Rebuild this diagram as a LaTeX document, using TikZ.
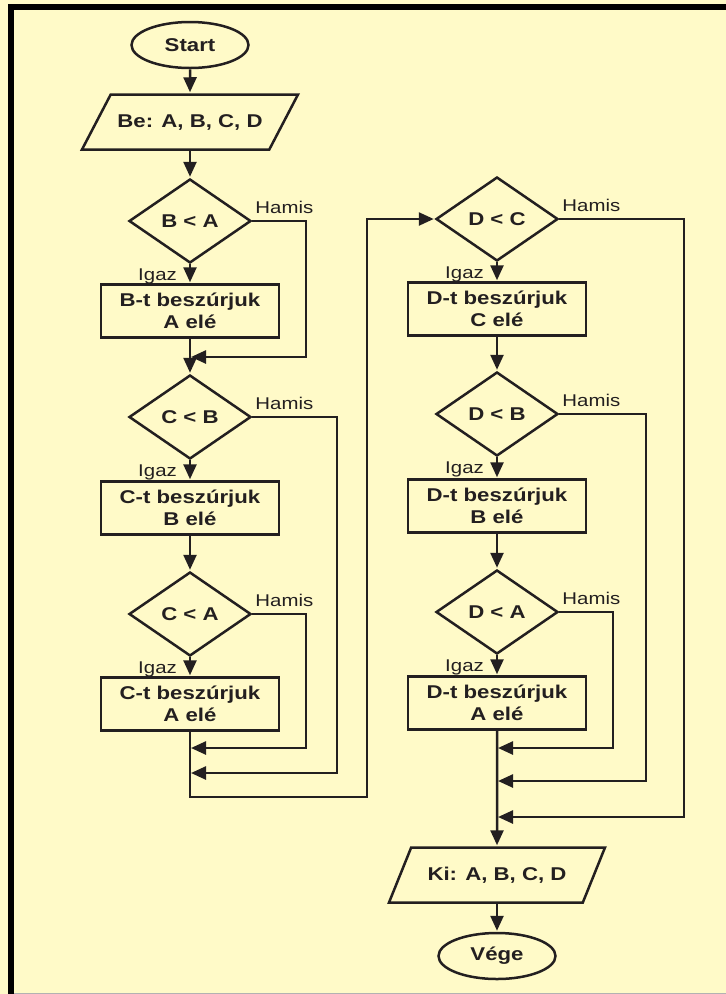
\documentclass[tikz,border=0pt]{standalone}
\usepackage{fontspec}
\newfontfamily\flowfont[FakeStretch=1.2]{Liberation Sans}
\usetikzlibrary{shapes.geometric,arrows.meta}
\definecolor{paper}{RGB}{255,250,200}
\definecolor{ink}{RGB}{35,31,32}

\begin{document}
\begin{tikzpicture}
    [x=1pt,y=-1pt,
     every node/.style={font=\flowfont\fontsize{18.5}{22}\selectfont\bfseries,text=ink},
     term/.style={shape=ellipse,draw=ink,line width=2.5pt,minimum width=117pt,minimum height=46pt,inner sep=0pt},
     io/.style={shape=trapezium,trapezium left angle=#1,trapezium right angle=180-#1,trapezium stretches body=true,
       draw=ink,line width=2.5pt,minimum width=216pt,minimum height=55pt,inner xsep=0pt,inner ysep=18pt},
     test/.style={shape=diamond,draw=ink,line width=2.5pt,minimum width=122pt,minimum height=84pt,inner sep=0pt},
     proc/.style={shape=rectangle,draw=ink,line width=2.5pt,minimum width=178pt,minimum height=53pt,align=center,inner sep=0pt},
     tag/.style={font=\flowfont\fontsize{17}{20}\selectfont,inner sep=1pt},
     pre/.style={<-,>={Triangle[length=15pt,width=13pt]},shorten <=1pt,line width=2.5pt,draw=ink},
     post/.style={pre,->,shorten <=0pt,shorten >=1pt}]
    \useasboundingbox (0,0) rectangle (726,994);
    \fill [paper] (0,0) rectangle (726,994);
    \fill [black] (8,4) rectangle (726,10);
    \fill [black] (8,4) rectangle (14,994);
    \draw [black!30,line width=1pt] (14,993) -- (726,993);
    % left column
    \node [term] (start) at (190,45) {Start};
    \node [io=61] (be) at (190,122) {Be: A, B, C, D} edge [pre] (start);
    \node [test] (t1) at (190,221) {B < A} edge [pre] (be);
    \node [proc] (p1) at (190,311) {B-t beszúrjuk\\A elé} edge [pre] (t1);
    \node [test] (t2) at (190,417) {C < B} edge [pre] (p1);
    \node [proc] (p2) at (190,508) {C-t beszúrjuk\\B elé} edge [pre] (t2);
    \node [test] (t3) at (190,614) {C < A} edge [pre] (p2);
    \node [proc] (p3) at (190,704) {C-t beszúrjuk\\A elé} edge [pre] (t3);
    % right column
    \node [test] (t4) at (497,219) {D < C};
    \node [proc] (p4) at (497,309) {D-t beszúrjuk\\C elé} edge [pre] (t4);
    \node [test] (t5) at (497,414) {D < B} edge [pre] (p4);
    \node [proc] (p5) at (497,506) {D-t beszúrjuk\\B elé} edge [pre] (t5);
    \node [test] (t6) at (497,612) {D < A} edge [pre] (p5);
    \node [proc] (p6) at (497,703) {D-t beszúrjuk\\A elé} edge [pre] (t6);
    \node [io=67] (ki) at (497,875) {Ki: A, B, C, D} edge [pre] (p6);
    \node [term] (vege) at (497,956) {Vége} edge [pre] (ki);
    % labels
    \foreach \t in {t1,t2,t3,t4,t5,t6} {
      \node [tag,anchor=base west] (h-\t) at ([shift={(2,-8)}]\t.east) {Hamis};
      \node [tag,anchor=base east] (i-\t) at ([shift={(-12,16)}]\t.south) {Igaz};
    }
    % joins
    \coordinate (j1) at (190,357); \coordinate (r1) at (306,357);
    \coordinate (j2) at (190,748); \coordinate (r2) at (306,748);
    \coordinate (j3) at (190,773); \coordinate (r3) at (337,773);
    \coordinate (c1) at (190,797); \coordinate (c2) at (367,797);
    \coordinate (c3) at (367,219);
    \coordinate (k1) at (497,748); \coordinate (r4) at (613,748);
    \coordinate (k2) at (497,781); \coordinate (r5) at (646,781);
    \coordinate (k3) at (497,817); \coordinate (r6) at (684,817);
    \draw [post] (t1.east) -| (r1) -- (j1);
    \draw [post] (t2.east) -| (r3) -- (j3);
    \draw [post] (t3.east) -| (r2) -- (j2);
    \draw [post] (p3.south) -- (c1) -- (c2) -- (c3) -- (t4.west);
    \draw [post] (t6.east) -| (r4) -- (k1);
    \draw [post] (t5.east) -| (r5) -- (k2);
    \draw [post] (t4.east) -| (r6) -- (k3);
\end{tikzpicture}
\end{document}
